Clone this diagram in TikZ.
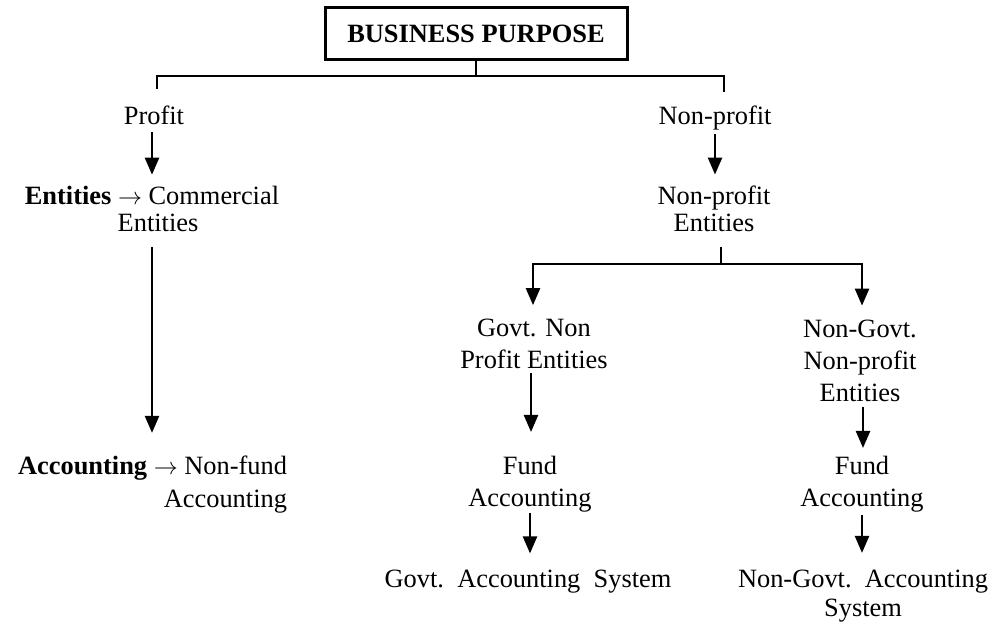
\documentclass[tikz,border=0pt]{standalone}
\usepackage{fontspec}
\setmainfont{Liberation Serif}
\usetikzlibrary{arrows.meta}
\begin{document}
\begin{tikzpicture}[x=0.5pt,y=-0.5pt,
  txt/.style={inner sep=0pt,outer sep=0pt,align=center,font=\fontsize{13.2pt}{16pt}\selectfont},
  ln/.style={line width=1.2pt},
  arr/.style={line width=1.2pt,-{Triangle[width=7pt,length=8.5pt]}},
  boxed/.style={draw,line width=1.5pt,minimum width=151pt,minimum height=26pt,inner sep=0pt,font=\fontsize{13.2pt}{16pt}\selectfont\bfseries}]
\useasboundingbox (0,0) rectangle (988,624);
% nodes
\node[boxed] (bp) at (476,34) {BUSINESS PURPOSE};
\node[txt] (profit) at (154,115) {Profit};
\node[txt,font=\fontsize{13.2pt}{13.5pt}\selectfont] (comm) at (152,208.5) {\textbf{Entities} $\rightarrow$ Commercial\\\hspace*{6pt}Entities};
\node[txt,align=right,anchor=east,font=\fontsize{13.2pt}{16.5pt}\selectfont] (acc) at (287,484.5) {\textbf{Accounting} $\rightarrow$ Non-fund\\Accounting};
\node[txt] (np) at (715,118) {Non-profit};
\node[txt,font=\fontsize{13.2pt}{13.5pt}\selectfont] (npe) at (714,208.5) {Non-profit\\Entities};
\node[txt] (gnp) at (534,344) {Govt. Non\\Profit Entities};
\node[txt] (ngnp) at (860,360.5) {Non-Govt.\\Non-profit\\Entities};
\node[txt] (fund1) at (530,484) {Fund\\Accounting};
\node[txt] (fund2) at (862,484) {Fund\\Accounting};
\node[txt] (gas) at (528,582) {Govt.\ \ Accounting\ \ System};
\node[txt,font=\fontsize{13.2pt}{14.5pt}\selectfont] (ngas) at (863,596) {Non-Govt.\ \ Accounting\\System};
% top split
\coordinate (top) at (476,76);
\coordinate (lt) at (157,89);
\coordinate (rt) at (724,92);
\draw[ln] (bp.south) -- (top);
\draw[ln] (lt) |- (rt |- top) -- (rt);
% left branch
\draw[arr] ([xshift=-1pt,yshift=-4pt]profit.south) -- ([xshift=-1pt,yshift=5.5pt]profit.south |- comm.north);
\draw[arr] ([yshift=-8pt]comm.south) -- ([yshift=11.5pt]comm.south |- acc.north);
% right branch
\draw[arr] ([yshift=-2pt]np.south) -- ([yshift=5.5pt]np.south |- npe.north);
\coordinate (split) at (721,264);
\draw[ln] ([xshift=3.5pt,yshift=-8pt]npe.south) -- (split);
\draw[arr] (split) -| ([xshift=-0.5pt,yshift=7pt]gnp.north);
\draw[arr] (split) -| ([xshift=1pt,yshift=7pt]ngnp.north);
\draw[arr] ([xshift=-1.5pt,yshift=-2pt]gnp.south) -- ([xshift=-1.5pt,yshift=12pt]gnp.south |- fund1.north);
\draw[arr] ([yshift=-0.5pt]fund1.south) -- ([yshift=8.5pt]fund1.south |- gas.north);
\draw[arr] ([xshift=1.5pt,yshift=-3pt]ngnp.south) -- ([xshift=1.5pt,yshift=4pt]ngnp.south |- fund2.north);
\draw[arr] ([yshift=-1.5pt]fund2.south) -- ([yshift=8.5pt]fund2.south |- ngas.north);
\end{tikzpicture}
\end{document}
